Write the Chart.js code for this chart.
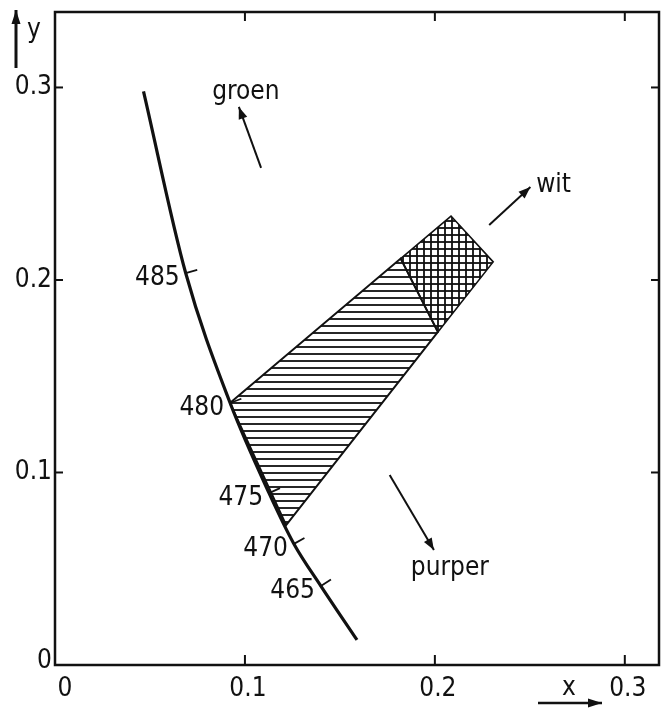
<!DOCTYPE html>
<html>
<head>
<meta charset="utf-8">
<script src="https://cdn.jsdelivr.net/npm/chart.js@4.4.0/dist/chart.umd.min.js"></script>
<style>
  body { margin: 0; background: #fff; }
  #wrap { width: 662px; height: 708px; }
</style>
</head>
<body>
<div id="wrap"><canvas id="chartLocus"></canvas></div>
<script>
// spectral locus (x, y)
var locusX = [0.0466, 0.0688, 0.0922, 0.1127, 0.1258, 0.1400, 0.1590];
var locusY = [0.2980, 0.2036, 0.1361, 0.0893, 0.0629, 0.0410, 0.0130];

// wavelength marks (nm) on the locus
var waveLabels = ['485', '480', '475', '470', '465'];
var waveX = [0.0688, 0.0922, 0.1127, 0.1258, 0.1400];
var waveY = [0.2036, 0.1361, 0.0893, 0.0629, 0.0410];

// hatched area (horizontal lines) and the cross-hatched end of it
var hatchX = [0.0921, 0.1820, 0.2016, 0.1217];
var hatchY = [0.1361, 0.2111, 0.1730, 0.0727];
var crossX = [0.1820, 0.2085, 0.2307, 0.2016];
var crossY = [0.2111, 0.2332, 0.2094, 0.1730];

// direction arrows and their words
var arrowWords = ['groen', 'wit', 'purper'];
var arrowFromX = [0.1085, 0.2286, 0.1762];
var arrowFromY = [0.2582, 0.2286, 0.0987];
var arrowToX = [0.0968, 0.2503, 0.1995];
var arrowToY = [0.2899, 0.2483, 0.0597];
var wordX = [0.1005, 0.2625, 0.2079];
var wordY = [0.2977, 0.2494, 0.0504];

// axis ticks
var xTicks = [0, 0.1, 0.2, 0.3];
var yTicks = [0, 0.1, 0.2, 0.3];
var xTickLabels = ['0', '0.1', '0.2', '0.3'];
var yTickLabels = ['0', '0.1', '0.2', '0.3'];

var FONT = '26px "DejaVu Sans Condensed", "DejaVu Sans", sans-serif';

function toPoints(xs, ys, close) {
    var p = [];
    for (var i = 0; i < xs.length; i++) p.push({x: xs[i], y: ys[i]});
    if (close) p.push({x: xs[0], y: ys[0]});
    return p;
}

function makePattern(cross) {
    var c = document.createElement('canvas');
    c.width = 7; c.height = 7;
    var g = c.getContext('2d');
    g.fillStyle = 'rgba(15,15,15,0.9)';
    g.fillRect(0, 3, 7, 2);
    if (cross) g.fillRect(3, 0, 2, 7);
    return g.createPattern(c, 'repeat');
}

function arrow(ctx, x1, y1, x2, y2, head) {
    ctx.beginPath();
    ctx.moveTo(x1, y1);
    ctx.lineTo(x2, y2);
    ctx.stroke();
    var ang = Math.atan2(y2 - y1, x2 - x1);
    ctx.beginPath();
    ctx.moveTo(x2, y2);
    ctx.lineTo(x2 - head * Math.cos(ang) + 4.5 * Math.sin(ang), y2 - head * Math.sin(ang) - 4.5 * Math.cos(ang));
    ctx.lineTo(x2 - head * Math.cos(ang) - 4.5 * Math.sin(ang), y2 - head * Math.sin(ang) + 4.5 * Math.cos(ang));
    ctx.closePath();
    ctx.fill();
}

function seg(ctx, x1, y1, x2, y2) {
    ctx.beginPath();
    ctx.moveTo(x1, y1);
    ctx.lineTo(x2, y2);
    ctx.stroke();
}

var decorPlugin = {
    id: 'decor',
    afterDatasetsDraw: function (chart) {
        var ctx = chart.ctx;
        var sx = chart.scales.x, sy = chart.scales.y;
        var a = chart.chartArea;
        ctx.save();
        ctx.strokeStyle = '#111';
        ctx.fillStyle = '#111';
        ctx.lineCap = 'butt';

        // frame
        ctx.lineWidth = 2.5;
        ctx.strokeRect(a.left, a.top, a.right - a.left, a.bottom - a.top);

        // inward ticks
        ctx.lineWidth = 2;
        for (var i = 1; i < xTicks.length; i++) {
            var px = sx.getPixelForValue(xTicks[i]);
            seg(ctx, px, a.bottom, px, a.bottom - 10);
            seg(ctx, px, a.top, px, a.top + 9);
        }
        for (i = 1; i < yTicks.length; i++) {
            var py = sy.getPixelForValue(yTicks[i]);
            seg(ctx, a.left, py, a.left + 8, py);
            seg(ctx, a.right, py, a.right - 8, py);
        }

        // tick labels
        ctx.font = FONT;
        ctx.textBaseline = 'middle';
        ctx.textAlign = 'center';
        for (i = 0; i < xTicks.length; i++) {
            var lx = sx.getPixelForValue(xTicks[i]) + (xTicks[i] === 0 ? 10 : 3);
            ctx.fillText(xTickLabels[i], lx, a.bottom + 24);
        }
        ctx.textAlign = 'right';
        for (i = 0; i < yTicks.length; i++) {
            var ly = sy.getPixelForValue(yTicks[i]) - (yTicks[i] === 0 ? 4 : 0);
            ctx.fillText(yTickLabels[i], a.left - 3, ly);
        }

        // wavelength marks along the locus
        ctx.lineWidth = 1.8;
        for (i = 0; i < waveX.length; i++) {
            var wx = sx.getPixelForValue(waveX[i]), wy = sy.getPixelForValue(waveY[i]);
            var k = locusX.indexOf(waveX[i]);
            var dx = sx.getPixelForValue(locusX[k + 1]) - sx.getPixelForValue(locusX[k - 1]);
            var dy = sy.getPixelForValue(locusY[k + 1]) - sy.getPixelForValue(locusY[k - 1]);
            var len = Math.sqrt(dx * dx + dy * dy);
            seg(ctx, wx, wy, wx + 12 * dy / len, wy - 12 * dx / len);
            ctx.fillText(waveLabels[i], wx - 6, wy + 5);
        }

        // arrows with words
        ctx.lineWidth = 2;
        ctx.textAlign = 'center';
        for (i = 0; i < arrowWords.length; i++) {
            arrow(ctx, sx.getPixelForValue(arrowFromX[i]), sy.getPixelForValue(arrowFromY[i]),
                sx.getPixelForValue(arrowToX[i]), sy.getPixelForValue(arrowToY[i]), 12);
            ctx.fillText(arrowWords[i], sx.getPixelForValue(wordX[i]), sy.getPixelForValue(wordY[i]));
        }

        // axis names with arrows
        ctx.lineWidth = 3;
        arrow(ctx, 16, 68, 16, 10, 14);
        ctx.textAlign = 'left';
        ctx.fillText('y', 27, 30);
        ctx.lineWidth = 2.5;
        arrow(ctx, 538, 703, 602, 703, 14);
        ctx.textAlign = 'center';
        ctx.fillText('x', 569, 688);
        ctx.restore();
    }
};

var ctxEl = document.getElementById('chartLocus');

var myChart = new Chart(ctxEl, {
    type: 'scatter',
    data: {
        datasets: [
            {
                label: 'locus',
                data: toPoints(locusX, locusY, false),
                showLine: true,
                borderColor: '#111',
                borderWidth: 3.2,
                pointRadius: 0,
                cubicInterpolationMode: 'monotone',
                fill: false
            },
            {
                label: 'kruis',
                data: toPoints(crossX, crossY, true),
                showLine: true,
                borderColor: '#111',
                borderWidth: 1.6,
                backgroundColor: makePattern(true),
                pointRadius: 0,
                tension: 0,
                fill: 'shape'
            },
            {
                label: 'arcering',
                data: toPoints(hatchX, hatchY, true),
                showLine: true,
                borderColor: '#111',
                borderWidth: 2,
                backgroundColor: makePattern(false),
                pointRadius: 0,
                tension: 0,
                fill: 'shape'
            }
        ]
    },
    options: {
        responsive: true,
        maintainAspectRatio: false,
        animation: false,
        layout: { padding: { left: 55, top: 12, right: 3, bottom: 43 } },
        scales: {
            x: { type: 'linear', min: 0, max: 0.318, display: false },
            y: { type: 'linear', min: 0, max: 0.3392, display: false }
        },
        plugins: {
            legend: { display: false },
            tooltip: { enabled: false }
        }
    },
    plugins: [decorPlugin]
});
</script>
</body>
</html>
